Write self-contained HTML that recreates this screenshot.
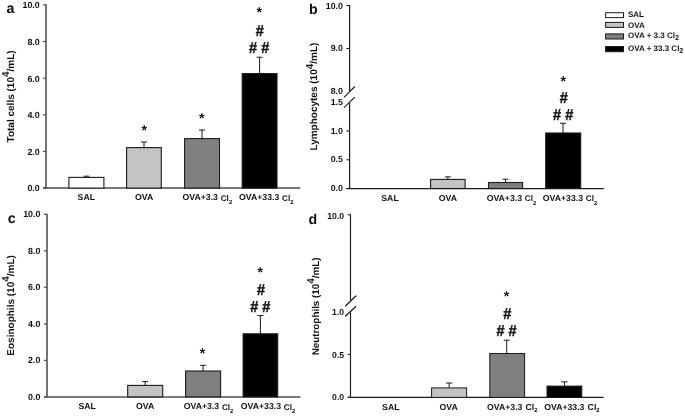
<!DOCTYPE html>
<html><head><meta charset="utf-8"><title>chart</title>
<style>html,body{margin:0;padding:0;background:#fff;}body{width:685px;height:416px;overflow:hidden;}svg{display:block;will-change:transform;}text{font-family:"Liberation Sans",sans-serif;font-weight:bold;fill:#111;text-rendering:geometricPrecision;}</style>
</head><body>
<svg width="685" height="416" viewBox="0 0 685 416">
<rect x="0" y="0" width="685" height="416" fill="#ffffff"/>
<defs><filter id="soft" x="0" y="0" width="685" height="416" filterUnits="userSpaceOnUse"><feGaussianBlur stdDeviation="0.35"/></filter></defs>
<g filter="url(#soft)">
<rect x="0" y="0" width="685" height="416" fill="#ffffff"/>
<line x1="46" y1="4.3" x2="46" y2="188.8" stroke="#4c4c4c" stroke-width="1.55"/>
<line x1="43" y1="188.1" x2="300.3" y2="188.1" stroke="#4c4c4c" stroke-width="1.5"/>
<line x1="43" y1="4.9" x2="46" y2="4.9" stroke="#4c4c4c" stroke-width="1.2"/>
<text x="39.7" y="8.25" font-size="8.85" text-anchor="end" >10.0</text>
<line x1="43" y1="41.54" x2="46" y2="41.54" stroke="#4c4c4c" stroke-width="1.2"/>
<text x="39.7" y="44.89" font-size="8.85" text-anchor="end" >8.0</text>
<line x1="43" y1="78.18" x2="46" y2="78.18" stroke="#4c4c4c" stroke-width="1.2"/>
<text x="39.7" y="81.53" font-size="8.85" text-anchor="end" >6.0</text>
<line x1="43" y1="114.82" x2="46" y2="114.82" stroke="#4c4c4c" stroke-width="1.2"/>
<text x="39.7" y="118.17" font-size="8.85" text-anchor="end" >4.0</text>
<line x1="43" y1="151.46" x2="46" y2="151.46" stroke="#4c4c4c" stroke-width="1.2"/>
<text x="39.7" y="154.81" font-size="8.85" text-anchor="end" >2.0</text>
<line x1="43" y1="188.1" x2="46" y2="188.1" stroke="#4c4c4c" stroke-width="1.2"/>
<text x="39.7" y="191.45" font-size="8.85" text-anchor="end" >0.0</text>
<text x="6.6" y="12.5" font-size="14.2" text-anchor="start" >a</text>
<text transform="translate(13.7,96.4) rotate(-90)" font-size="10.0" text-anchor="middle">Total cells (10<tspan dy="-4.4" font-size="10.00">4</tspan><tspan dy="4.4">/mL)</tspan></text>
<rect x="68.9" y="177.4" width="35" height="10.7" fill="#ffffff" stroke="#1a1a1a" stroke-width="1.1"/>
<line x1="86.4" y1="176.2" x2="86.4" y2="177.4" stroke="#1a1a1a" stroke-width="1.0"/>
<line x1="83.4" y1="176.2" x2="89.4" y2="176.2" stroke="#1a1a1a" stroke-width="1.0"/>
<rect x="126.6" y="147.6" width="34.7" height="40.5" fill="#c4c4c4" stroke="#1a1a1a" stroke-width="1.1"/>
<line x1="144" y1="142" x2="144" y2="147.6" stroke="#1a1a1a" stroke-width="1.0"/>
<line x1="141" y1="142" x2="147" y2="142" stroke="#1a1a1a" stroke-width="1.0"/>
<rect x="184.6" y="138.6" width="34.9" height="49.5" fill="#7f7f7f" stroke="#1a1a1a" stroke-width="1.1"/>
<line x1="202" y1="130" x2="202" y2="138.6" stroke="#1a1a1a" stroke-width="1.0"/>
<line x1="199" y1="130" x2="205" y2="130" stroke="#1a1a1a" stroke-width="1.0"/>
<rect x="242.2" y="73.6" width="34.8" height="114.5" fill="#000000" stroke="#1a1a1a" stroke-width="1.1"/>
<line x1="259.6" y1="57.2" x2="259.6" y2="73.6" stroke="#1a1a1a" stroke-width="1.0"/>
<line x1="256.6" y1="57.2" x2="262.6" y2="57.2" stroke="#1a1a1a" stroke-width="1.0"/>
<text x="86.3" y="200.2" font-size="8.7" text-anchor="middle" >SAL</text>
<text x="144.2" y="200.2" font-size="8.7" text-anchor="middle" >OVA</text>
<text x="182.55" y="200.2" font-size="8.7">OVA+3.3<tspan dx="2.8" dy="0.9" font-size="8.18">Cl</tspan><tspan dy="3.1" font-size="5.83">2</tspan></text>
<text x="239.05" y="200.2" font-size="8.7">OVA+33.3<tspan dx="2.8" dy="0.9" font-size="8.18">Cl</tspan><tspan dy="3.1" font-size="5.83">2</tspan></text>
<text x="144.2" y="134.9" font-size="14.2" text-anchor="middle" >*</text>
<text x="201.8" y="122.8" font-size="14.2" text-anchor="middle" >*</text>
<text x="259.2" y="17.4" font-size="14.2" text-anchor="middle" >*</text>
<text transform="translate(259.9,35.6) scale(1,1.08)" font-size="14.5" text-anchor="middle" stroke="#111" stroke-width="0.4">#</text>
<text transform="translate(259.2,52.7) scale(1,1.08)" font-size="14.5" text-anchor="middle" stroke="#111" stroke-width="0.4"># #</text>
<line x1="349.6" y1="5" x2="349.6" y2="91.3" stroke="#1c1c1c" stroke-width="1.2"/>
<line x1="349.6" y1="102.9" x2="349.6" y2="189.1" stroke="#1c1c1c" stroke-width="1.2"/>
<line x1="344" y1="97.3" x2="354.8" y2="86.5" stroke="#1a1a1a" stroke-width="1.1"/>
<line x1="344" y1="107.7" x2="354.8" y2="97.1" stroke="#1a1a1a" stroke-width="1.1"/>
<line x1="346.6" y1="188.5" x2="603.8" y2="188.5" stroke="#1c1c1c" stroke-width="1.25"/>
<line x1="346.4" y1="5.5" x2="349.6" y2="5.5" stroke="#1c1c1c" stroke-width="1.1"/>
<text x="342.9" y="8.5" font-size="8.8" text-anchor="end" >10.0</text>
<line x1="346.4" y1="48.5" x2="349.6" y2="48.5" stroke="#1c1c1c" stroke-width="1.1"/>
<text x="342.9" y="51.4" font-size="8.8" text-anchor="end" >9.0</text>
<text x="342.9" y="94.3" font-size="8.8" text-anchor="end" >8.0</text>
<text x="342.9" y="105" font-size="8.8" text-anchor="end" >1.5</text>
<line x1="346.4" y1="131" x2="349.6" y2="131" stroke="#1c1c1c" stroke-width="1.1"/>
<text x="342.9" y="133.5" font-size="8.8" text-anchor="end" >1.0</text>
<line x1="346.4" y1="159.8" x2="349.6" y2="159.8" stroke="#1c1c1c" stroke-width="1.1"/>
<text x="342.9" y="162" font-size="8.8" text-anchor="end" >0.5</text>
<line x1="346.4" y1="188.5" x2="349.6" y2="188.5" stroke="#1c1c1c" stroke-width="1.1"/>
<text x="342.9" y="191" font-size="8.8" text-anchor="end" >0.0</text>
<text x="309" y="14.4" font-size="14.2" text-anchor="start" >b</text>
<text transform="translate(317.2,96.6) rotate(-90)" font-size="10.0" text-anchor="middle">Lymphocytes (10<tspan dy="-4.4" font-size="10.00">4</tspan><tspan dy="4.4">/mL)</tspan></text>
<rect x="430.6" y="179.4" width="34.5" height="9.1" fill="#c4c4c4" stroke="#1a1a1a" stroke-width="1.1"/>
<line x1="447.9" y1="176.9" x2="447.9" y2="179.4" stroke="#1a1a1a" stroke-width="1.0"/>
<line x1="444.9" y1="176.9" x2="450.9" y2="176.9" stroke="#1a1a1a" stroke-width="1.0"/>
<rect x="488.5" y="182.5" width="34.1" height="6" fill="#7f7f7f" stroke="#1a1a1a" stroke-width="1.1"/>
<line x1="505.5" y1="179.2" x2="505.5" y2="182.5" stroke="#1a1a1a" stroke-width="1.0"/>
<line x1="502.5" y1="179.2" x2="508.5" y2="179.2" stroke="#1a1a1a" stroke-width="1.0"/>
<rect x="545.7" y="133" width="35" height="55.5" fill="#000000" stroke="#1a1a1a" stroke-width="1.1"/>
<line x1="563" y1="123.3" x2="563" y2="133" stroke="#1a1a1a" stroke-width="1.0"/>
<line x1="560" y1="123.3" x2="566" y2="123.3" stroke="#1a1a1a" stroke-width="1.0"/>
<text x="390" y="200.5" font-size="8.7" text-anchor="middle" >SAL</text>
<text x="447.9" y="200.5" font-size="8.7" text-anchor="middle" >OVA</text>
<text x="486.65" y="200.5" font-size="8.7">OVA+3.3<tspan dx="2.8" dy="0.9" font-size="8.18">Cl</tspan><tspan dy="3.1" font-size="5.83">2</tspan></text>
<text x="542.85" y="200.5" font-size="8.7">OVA+33.3<tspan dx="2.8" dy="0.9" font-size="8.18">Cl</tspan><tspan dy="3.1" font-size="5.83">2</tspan></text>
<text x="563.2" y="85.9" font-size="14.2" text-anchor="middle" >*</text>
<text transform="translate(563.9,102.8) scale(1,1.08)" font-size="14.5" text-anchor="middle" stroke="#111" stroke-width="0.4">#</text>
<text transform="translate(563.2,120) scale(1,1.08)" font-size="14.5" text-anchor="middle" stroke="#111" stroke-width="0.4"># #</text>
<rect x="605.6" y="12.7" width="17.9" height="4.90" fill="#ffffff" stroke="#1a1a1a" stroke-width="1"/>
<rect x="605.6" y="22.4" width="17.9" height="5.00" fill="#c4c4c4" stroke="#1a1a1a" stroke-width="1"/>
<rect x="605.6" y="33.9" width="17.9" height="5.10" fill="#7f7f7f" stroke="#1a1a1a" stroke-width="1"/>
<rect x="605.6" y="46.5" width="17.9" height="5.20" fill="#000000" stroke="#1a1a1a" stroke-width="1"/>
<text x="628.0" y="17.3" font-size="8.0">SAL</text>
<text x="628.0" y="27.7" font-size="8.0">OVA</text>
<text x="628.0" y="38.1" font-size="8.0">OVA + 3.3 Cl<tspan dy="2.2" font-size="7.2">2</tspan></text>
<text x="628.0" y="50.5" font-size="8.0">OVA + 33.3 Cl<tspan dy="2.2" font-size="7.2">2</tspan></text>
<line x1="47" y1="213.7" x2="47" y2="397.6" stroke="#505050" stroke-width="1.6"/>
<line x1="44" y1="396.9" x2="300.5" y2="396.9" stroke="#505050" stroke-width="1.55"/>
<line x1="44" y1="214.3" x2="47" y2="214.3" stroke="#505050" stroke-width="1.2"/>
<text x="40.4" y="217.35" font-size="8.85" text-anchor="end" >10.0</text>
<line x1="44" y1="250.82" x2="47" y2="250.82" stroke="#505050" stroke-width="1.2"/>
<text x="40.4" y="253.87" font-size="8.85" text-anchor="end" >8.0</text>
<line x1="44" y1="287.34" x2="47" y2="287.34" stroke="#505050" stroke-width="1.2"/>
<text x="40.4" y="290.39" font-size="8.85" text-anchor="end" >6.0</text>
<line x1="44" y1="323.86" x2="47" y2="323.86" stroke="#505050" stroke-width="1.2"/>
<text x="40.4" y="326.91" font-size="8.85" text-anchor="end" >4.0</text>
<line x1="44" y1="360.38" x2="47" y2="360.38" stroke="#505050" stroke-width="1.2"/>
<text x="40.4" y="363.43" font-size="8.85" text-anchor="end" >2.0</text>
<line x1="44" y1="396.9" x2="47" y2="396.9" stroke="#505050" stroke-width="1.2"/>
<text x="40.4" y="399.95" font-size="8.85" text-anchor="end" >0.0</text>
<text x="7.7" y="222.7" font-size="14.2" text-anchor="start" >c</text>
<text transform="translate(13.8,305.4) rotate(-90)" font-size="10.0" text-anchor="middle">Eosinophils (10<tspan dy="-4.4" font-size="10.00">4</tspan><tspan dy="4.4">/mL)</tspan></text>
<rect x="127.7" y="385.4" width="35" height="11.5" fill="#c4c4c4" stroke="#1a1a1a" stroke-width="1.1"/>
<line x1="145.2" y1="381.6" x2="145.2" y2="385.4" stroke="#1a1a1a" stroke-width="1.0"/>
<line x1="142.2" y1="381.6" x2="148.2" y2="381.6" stroke="#1a1a1a" stroke-width="1.0"/>
<rect x="185.6" y="371" width="35" height="25.9" fill="#7f7f7f" stroke="#1a1a1a" stroke-width="1.1"/>
<line x1="203.1" y1="365.3" x2="203.1" y2="371" stroke="#1a1a1a" stroke-width="1.0"/>
<line x1="200.1" y1="365.3" x2="206.1" y2="365.3" stroke="#1a1a1a" stroke-width="1.0"/>
<rect x="243.1" y="333.8" width="34.6" height="63.1" fill="#000000" stroke="#1a1a1a" stroke-width="1.1"/>
<line x1="260.4" y1="315.5" x2="260.4" y2="333.8" stroke="#1a1a1a" stroke-width="1.0"/>
<line x1="257.4" y1="315.5" x2="263.4" y2="315.5" stroke="#1a1a1a" stroke-width="1.0"/>
<text x="87.2" y="408.9" font-size="8.7" text-anchor="middle" >SAL</text>
<text x="145.1" y="408.9" font-size="8.7" text-anchor="middle" >OVA</text>
<text x="183.75" y="408.9" font-size="8.7">OVA+3.3<tspan dx="2.8" dy="0.9" font-size="8.18">Cl</tspan><tspan dy="3.1" font-size="5.83">2</tspan></text>
<text x="240.85" y="408.9" font-size="8.7">OVA+33.3<tspan dx="2.8" dy="0.9" font-size="8.18">Cl</tspan><tspan dy="3.1" font-size="5.83">2</tspan></text>
<text x="202.6" y="358" font-size="14.2" text-anchor="middle" >*</text>
<text x="260.3" y="276.9" font-size="14.2" text-anchor="middle" >*</text>
<text transform="translate(261,295.2) scale(1,1.08)" font-size="14.5" text-anchor="middle" stroke="#111" stroke-width="0.4">#</text>
<text transform="translate(260.3,312.3) scale(1,1.08)" font-size="14.5" text-anchor="middle" stroke="#111" stroke-width="0.4"># #</text>
<line x1="350.5" y1="214.3" x2="350.5" y2="300.6" stroke="#1c1c1c" stroke-width="1.15"/>
<line x1="350.5" y1="312.4" x2="350.5" y2="398" stroke="#1c1c1c" stroke-width="1.15"/>
<line x1="345.2" y1="306.3" x2="356.1" y2="295.8" stroke="#1a1a1a" stroke-width="1.25"/>
<line x1="345.2" y1="316.5" x2="356.1" y2="306.2" stroke="#1a1a1a" stroke-width="1.25"/>
<line x1="347.8" y1="397.4" x2="603.6" y2="397.4" stroke="#1c1c1c" stroke-width="1.2"/>
<line x1="347.7" y1="214.8" x2="350.5" y2="214.8" stroke="#1c1c1c" stroke-width="1.05"/>
<text x="344.2" y="218.7" font-size="8.7" text-anchor="end" >10.0</text>
<text x="344.2" y="315" font-size="8.7" text-anchor="end" >1.0</text>
<line x1="347.7" y1="354.4" x2="350.5" y2="354.4" stroke="#1c1c1c" stroke-width="1.05"/>
<text x="344.2" y="357.6" font-size="8.7" text-anchor="end" >0.5</text>
<line x1="347.7" y1="397.4" x2="350.5" y2="397.4" stroke="#1c1c1c" stroke-width="1.05"/>
<text x="344.2" y="400.1" font-size="8.7" text-anchor="end" >0.0</text>
<text x="308.4" y="224.2" font-size="14.2" text-anchor="start" >d</text>
<text transform="translate(318.6,306.4) rotate(-90)" font-size="9.85" text-anchor="middle">Neutrophils (10<tspan dy="-4.4" font-size="9.85">4</tspan><tspan dy="4.4">/mL)</tspan></text>
<rect x="431.6" y="387.9" width="35" height="9.5" fill="#c4c4c4" stroke="#1a1a1a" stroke-width="1.0"/>
<line x1="449.1" y1="383" x2="449.1" y2="387.9" stroke="#1a1a1a" stroke-width="1.0"/>
<line x1="445.9" y1="383" x2="452.3" y2="383" stroke="#1a1a1a" stroke-width="1.0"/>
<rect x="489.8" y="353.5" width="34.8" height="43.9" fill="#7f7f7f" stroke="#1a1a1a" stroke-width="1.0"/>
<line x1="506.7" y1="340.2" x2="506.7" y2="353.5" stroke="#1a1a1a" stroke-width="1.0"/>
<line x1="503.7" y1="340.2" x2="509.7" y2="340.2" stroke="#1a1a1a" stroke-width="1.0"/>
<rect x="547" y="386.1" width="34.8" height="11.3" fill="#000000" stroke="#1a1a1a" stroke-width="1.0"/>
<line x1="564.4" y1="381.9" x2="564.4" y2="386.1" stroke="#1a1a1a" stroke-width="1.0"/>
<line x1="561.2" y1="381.9" x2="567.6" y2="381.9" stroke="#1a1a1a" stroke-width="1.0"/>
<text x="390.8" y="409.7" font-size="8.7" text-anchor="middle" >SAL</text>
<text x="448.6" y="409.7" font-size="8.7" text-anchor="middle" >OVA</text>
<text x="487.05" y="409.7" font-size="8.7">OVA+3.3<tspan dx="3.2" dy="0" font-size="8.70">Cl</tspan><tspan dy="2.1" font-size="5.83">2</tspan></text>
<text x="544.25" y="409.7" font-size="8.7">OVA+33.3<tspan dx="3.2" dy="0" font-size="8.70">Cl</tspan><tspan dy="2.1" font-size="5.83">2</tspan></text>
<text x="506.6" y="300.7" font-size="14.2" text-anchor="middle" >*</text>
<text transform="translate(507.3,318.5) scale(1,1.08)" font-size="14.5" text-anchor="middle" stroke="#111" stroke-width="0.4">#</text>
<text transform="translate(506.6,335.8) scale(1,1.08)" font-size="14.5" text-anchor="middle" stroke="#111" stroke-width="0.4"># #</text>
</g>
</svg>
</body></html>
